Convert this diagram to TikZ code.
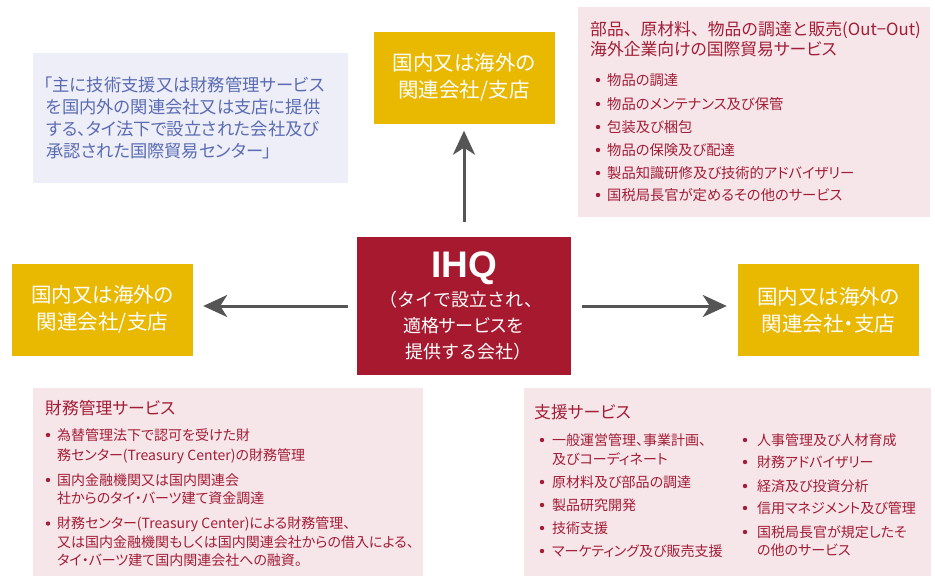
\documentclass[tikz,border=0pt]{standalone}
\usepackage{fontspec}
\setmainfont{Noto Sans CJK JP}[RawFeature=+palt]
\newfontfamily\fullwidth{Noto Sans CJK JP}
\newfontfamily\ihqfont{Liberation Sans}
\usetikzlibrary{arrows.meta}
\definecolor{pinkbg}{HTML}{F6E6EA}
\definecolor{bluebg}{HTML}{EDEEF7}
\definecolor{bluetext}{HTML}{5A6BB3}
\definecolor{redtext}{HTML}{A31D36}
\definecolor{ihqred}{HTML}{A6192E}
\definecolor{yellowbox}{HTML}{E9B800}
\definecolor{arrowgrey}{HTML}{555555}
\begin{document}
\begin{tikzpicture}[x=1pt,y=-1pt,
  panel/.style={fill=#1,draw=none},
  ybox/.style={fill=yellowbox,draw=none,text=white,minimum width=181pt,minimum height=92pt,inner sep=0pt,
    align=center,font=\fontsize{20.5}{27}\selectfont},
  ihqbox/.style={fill=ihqred,draw=none,minimum width=214pt,minimum height=138pt,inner sep=0pt},
  tfourteen/.style={anchor=west,inner sep=0pt,text=redtext,font=\fontsize{14.3}{17}\selectfont,text height=12.5pt,text depth=1.7pt},
  tthirteen/.style={anchor=west,inner sep=0pt,text=redtext,font=\fontsize{14}{17}\selectfont,text height=12.3pt,text depth=1.7pt},
  headred/.style={anchor=west,inner sep=0pt,text=redtext,font=\fontsize{16.8}{20}\selectfont,text height=14.8pt,text depth=2pt},
  blueline/.style={anchor=west,inner sep=0pt,text=bluetext,font=\fontsize{17.3}{22}\selectfont,text height=15.2pt,text depth=2pt},
  whiteline/.style={anchor=center,inner sep=0pt,text=white,font=\fontsize{18}{22}\selectfont,text height=15.8pt,text depth=2.2pt},
  dot/.style={fill=redtext},
  arr/.style={draw=arrowgrey,line width=3pt,-{Stealth[length=24pt,width=22pt,inset=7pt]}}
]
\useasboundingbox (0,0) rectangle (935,576);

% panels
\fill[panel=bluebg] (33,53) rectangle (348,183);
\fill[panel=pinkbg] (578,7) rectangle (930,217);
\fill[panel=pinkbg] (33,388) rectangle (423,576);
\fill[panel=pinkbg] (524,388) rectangle (931,576);

% blue description
\node[blueline] (d1) at (44,85) {「主に技術支援又は財務管理サービス};
\node[blueline] (d2) at (46,107) {を国内外の関連会社又は支店に提供};
\node[blueline] (d3) at (46,129) {する、タイ法下で設立された会社及び};
\node[blueline] (d4) at (46,151) {承認された国際貿易センター」};

% yellow boxes
\node[ybox] (ytop) at (464,77.5) {国内又は海外の\\関連会社/支店};
\node[ybox] (yleft) at (102.5,309.5) {国内又は海外の\\関連会社/支店};
\node[ybox] (yright) at (828.5,310) {国内又は海外の\\関連会社・支店};

% IHQ
\node[ihqbox] (ihq) at (464,306) {};
\node[anchor=base,inner sep=0pt,text=white,font=\ihqfont\fontsize{37}{40}\selectfont\bfseries] (ihqt) at (464,277) {IHQ};
\node[whiteline,font=\fullwidth\fontsize{18}{22}\selectfont] (i1) at (461,300) {（タイで設立され、};
\node[whiteline] (i2) at (463,326) {適格サービスを};
\node[whiteline,font=\fullwidth\fontsize{18}{22}\selectfont] (i3) at (468,351.5) {提供する会社）};

% arrows
\draw[arr,shorten <=15pt,shorten >=7pt] (ihq.north) -- (ihq.north |- ytop.south);
\draw[arr,shorten <=9pt,shorten >=10pt] (ihq.west) -- (ihq.west -| yleft.east);
\draw[arr,shorten <=11pt,shorten >=11pt] (ihq.east) -- (ihq.east -| yright.west);

% top-right panel
\node[headred,font=\fullwidth\fontsize{16.8}{20}\selectfont] (tr0a) at (590,29) {部品、原材料、物品の調達と販売(Out−Out)};
\node[headred] (tr0b) at (590,49.5) {海外企業向けの国際貿易サービス};
\foreach \yy/\tt [count=\k] in {80/物品の調達,104/物品のメンテナンス及び保管,127/包装及び梱包,150/物品の保険及び配達,173/製品知識研修及び技術的アドバイザリー,195/国税局長官が定めるその他のサービス}{
  \fill[dot] (598,\yy) circle (2.2pt);
  \node[tfourteen] (tr\k) at (607,\yy) {\tt};
}

% bottom-left panel
\node[headred] (bl0) at (45,408) {財務管理サービス};
\fill[dot] (48,435) circle (2.2pt);
\node[tthirteen] (bl1a) at (57,435) {為替管理法下で認可を受けた財};
\node[tthirteen] (bl1b) at (57,455) {務センター(Treasury Center)の財務管理};
\fill[dot] (48,480) circle (2.2pt);
\node[tthirteen] (bl2a) at (57,480) {国内金融機関又は国内関連会};
\node[tthirteen] (bl2b) at (57,498.5) {社からのタイ・バーツ建て資金調達};
\fill[dot] (48,523.5) circle (2.2pt);
\node[tthirteen] (bl3a) at (57,523.5) {財務センター(Treasury Center)による財務管理、};
\node[tthirteen] (bl3b) at (57,542) {又は国内金融機関もしくは国内関連会社からの借入による、};
\node[tthirteen] (bl3c) at (57,560) {タイ・バーツ建て国内関連会社への融資。};

% bottom-right panel
\node[headred] (br0) at (534,412) {支援サービス};
\fill[dot] (542,440) circle (2.2pt);
\node[tthirteen] (brl1a) at (552,440) {一般運営管理、事業計画、};
\node[tthirteen] (brl1b) at (552,459) {及びコーディネート};
\foreach \yy/\tt [count=\k] in {482/原材料及び部品の調達,505/製品研究開発,528/技術支援,551/マーケティング及び販売支援}{
  \fill[dot] (542,\yy) circle (2.2pt);
  \node[tthirteen] (brl\k) at (552,\yy) {\tt};
}
\foreach \yy/\tt [count=\k] in {440/人事管理及び人材育成,462/財務アドバイザリー,486/経済及び投資分析,508/信用マネジメント及び管理,532/国税局長官が規定したそ}{
  \fill[dot] (745,\yy) circle (2.2pt);
  \node[tthirteen] (brr\k) at (757,\yy) {\tt};
}
\node[tthirteen] (brr5b) at (757,550.5) {の他のサービス};
\end{tikzpicture}
\end{document}
